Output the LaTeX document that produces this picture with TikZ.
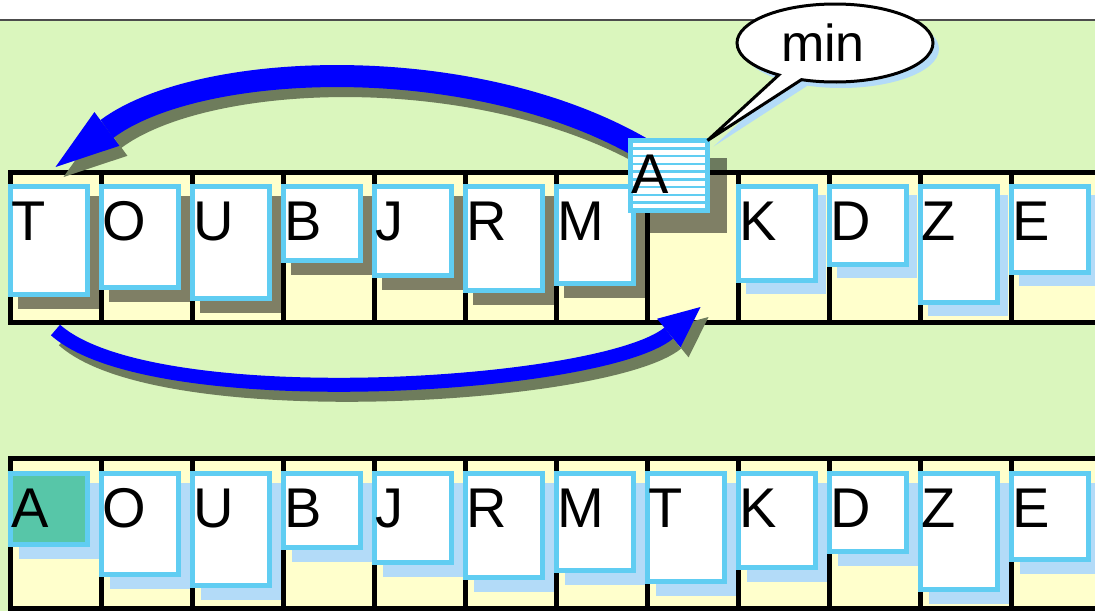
\documentclass[tikz,border=0pt]{standalone}
\usepackage{fontspec}
\setmainfont{Liberation Sans}
\usetikzlibrary{arrows.meta, shapes.callouts, shadows, calc}
\definecolor{basegreen}{RGB}{218,246,189}
\definecolor{baseyellow}{RGB}{255,255,204}
\definecolor{cardblue}{RGB}{96,205,242}
\definecolor{shadeblue}{RGB}{179,219,248}
\definecolor{minteal}{RGB}{87,198,168}
\definecolor{arrowblue}{RGB}{0,0,255}
\definecolor{arrowshade}{RGB}{110,124,92}

\begin{document}
\begin{tikzpicture}[x=1pt, y=-1pt, font=\fontsize{56}{60}\selectfont]
  \tikzset{
    cell/.style={
      draw=black, fill=baseyellow, line width=5pt, minimum width=91pt, minimum height=150pt,
      inner sep=0pt, outer sep=0pt, anchor=north west
    },
    card/.style args={#1}{
      draw=cardblue, fill=white, line width=5pt, minimum width=77pt, minimum height=#1,
      inner sep=0pt, outer sep=0pt, anchor=north west
    },
    letter/.style={anchor=base west, inner sep=0pt},
    dark_shadow/.style={fill=black, opacity=0.5},
    blue_shadow/.style={fill=shadeblue},
    stripe/.style={draw=cardblue, line width=2.5pt},
    swap_arrow/.style args={#1/#2/#3}{
      line width=#1, -{Triangle[length=#2, width=#3, line width=0pt]}
    },
    arrow_shadow/.style={arrowshade, transform canvas={shift={(8pt,-10pt)}}},
    min_callout/.style={
      ellipse callout, draw=black, fill=white, line width=3pt, minimum width=196pt,
      minimum height=78pt, inner sep=0pt, font=\fontsize{52}{56}\selectfont,
      callout absolute pointer={(amin.north east)},
      drop shadow={fill=shadeblue, opacity=1, shadow xshift=6pt, shadow yshift=-6pt}
    }
  }
  \useasboundingbox (0,0) rectangle (1095,611);

  \fill[white] (0,0) rectangle (1095,20);
  \fill[basegreen] (0,20) rectangle (1095,611);
  \draw[black!70, line width=1.2pt] (0,20) -- (1095,20);

  % slots of both rows
  \foreach \i in {1,...,12} {
    \pgfmathsetmacro{\cx}{10+91*(\i-1)}
    \node[cell] (top-\i) at (\cx,172) {};
    \node[cell] (bot-\i) at (\cx,458) {};
  }

  % top row, slot 8 is empty
  \foreach \l/\h [count=\i] in {T/113,O/106,U/117,B/79,J/94,R/109,M/102,-/0,K/99,D/83,Z/121,E/91} {
    \pgfmathsetmacro{\cx}{8+91*(\i-1)}
    \pgfmathsetmacro{\ch}{\h-5}
    \ifnum\i=8
    \else
      \ifnum\i<8
        \fill[dark_shadow] (\cx+10,196) rectangle ++(82,\h);
      \else
        \fill[blue_shadow] (\cx+10,195) rectangle ++(80,\h);
      \fi
      \node[card=\ch pt] (card-top-\i) at (\cx+2.5,186.5) {};
      \node[letter] (let-top-\i) at (\cx+3,240) {\l};
    \fi
  }

  % bottom row after the swap
  \foreach \l/\h [count=\i] in {A/76,O/106,U/117,B/79,J/94,R/109,M/102,T/113,K/99,D/83,Z/121,E/91} {
    \pgfmathsetmacro{\cx}{8+91*(\i-1)}
    \pgfmathsetmacro{\ch}{\h-5}
    \ifnum\i=1 \def\cfill{minteal}\else \def\cfill{white}\fi
    \fill[blue_shadow] (\cx+11,483) rectangle ++(80,\h);
    \node[card=\ch pt, fill=\cfill] (card-bot-\i) at (\cx+2.5,473.5) {};
    \node[letter] (let-bot-\i) at (\cx+3,527) {\l};
  }

  \coordinate (arc-from) at ([shift={(-2pt,22pt)}]top-8.north west);
  \coordinate (arc-to) at ([yshift=5pt]top-1.north);
  \coordinate (low-from) at ([yshift=-8pt]top-1.south);
  \coordinate (low-to) at ([shift={(8pt,15pt)}]top-8.south);

  \draw[swap_arrow=22pt/64pt/42pt, arrow_shadow] (arc-from) .. controls (475,50) and (200,60) .. (arc-to);
  \draw[swap_arrow=22pt/64pt/42pt, arrowblue] (arc-from) .. controls (475,50) and (200,60) .. (arc-to);
  \draw[swap_arrow=14pt/41pt/37pt, arrow_shadow] (low-from) .. controls (152,416) and (602,388) .. (low-to);
  \draw[swap_arrow=14pt/41pt/37pt, arrowblue] (low-from) .. controls (152,416) and (602,388) .. (low-to);

  % the minimum, lifted out of slot 8
  \fill[dark_shadow] (645,158) rectangle ++(82,75);
  \node[card=70pt] (amin) at (630.5,140.5) {};
  \foreach \k in {1,...,8}
    \draw[stripe] ($(amin.north west)!{\k/9}!(amin.south west)$) -- ($(amin.north east)!{\k/9}!(amin.south east)$);
  \node[letter] (let-amin) at (631,193) {A};

  \node[min_callout] (min-note) at (835,43) {\hspace*{-24pt}min};
\end{tikzpicture}
\end{document}
